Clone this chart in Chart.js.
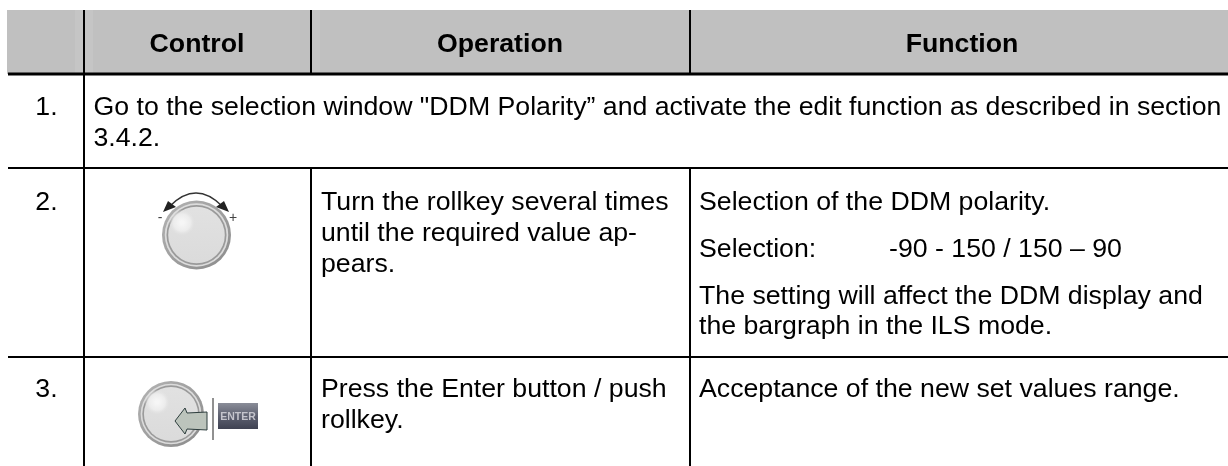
<!DOCTYPE html>
<html>
<head>
<meta charset="utf-8">
<title>DDM Polarity</title>
<style>
html, body { margin: 0; padding: 0; background: #fff; }
#box { width: 1228px; height: 466px; }
</style>
<script src="https://cdn.jsdelivr.net/npm/chart.js@4"></script>
</head>
<body>
<div id="box"><canvas id="tableChart"></canvas></div>
<script>
// table grid, in page units (the axes run 0-1228 and 0-466)
const columnEdges = [84, 311, 690];
const rowEdges = [74, 168, 357];
const tableTop = 10;
const tableBottom = 466;
const tableLeft = 7;
const tableRight = 1228;
const headerStreaks = [[75, 93], [311, 320]];

const headerLabels = ['Control', 'Operation', 'Function'];
const headerCentres = [197, 500, 962];
const rowNumbers = ['1.', '2.', '3.'];
const rowNumberY = [115, 210, 397];

const stepOneLines = ['Go to the selection window "DDM Polarity\u201d and activate the edit function as described in section', '3.4.2.'];
const stepOneY = [115, 146];
const operationLines = ['Turn the rollkey several times', 'until the required value ap-', 'pears.', 'Press the Enter button / push', 'rollkey.'];
const operationY = [210, 241, 272, 397, 428];
const functionLines = ['Selection of the DDM polarity.', 'Selection:', '-90 - 150 / 150 \u2013 90', 'The setting will affect the DDM display and', 'the bargraph in the ILS mode.', 'Acceptance of the new set values range.'];
const functionX = [699, 699, 889, 699, 699, 699];
const functionY = [210, 257, 257, 304, 334, 397];

// two knobs: centre x, centre y, radius
const knobs = [[196.5, 235, 34.5], [171, 414, 33]];

function seg(x1, y1, x2, y2, w) {
    return {
        type: 'line',
        data: [{ x: x1, y: y1 }, { x: x2, y: y2 }],
        borderColor: '#000',
        borderWidth: w || 2,
        pointRadius: 0,
        fill: false,
        order: 0
    };
}

function band(x1, x2, colour, order) {
    return {
        type: 'line',
        data: [{ x: x1, y: tableTop }, { x: x2, y: tableTop }],
        borderWidth: 0,
        pointRadius: 0,
        backgroundColor: colour,
        fill: { value: rowEdges[0] },
        order: order
    };
}

const datasets = [band(tableLeft, tableRight, '#c0c0c0', 2)];
headerStreaks.forEach(function (s) {
    datasets.push(band(s[0], s[1], '#c5c5c5', 1));
});

datasets.push(seg(tableLeft + 1, rowEdges[0], tableRight, rowEdges[0], 3));
datasets.push(seg(tableLeft + 1, rowEdges[1], tableRight, rowEdges[1]));
datasets.push(seg(tableLeft + 1, rowEdges[2], tableRight, rowEdges[2]));
datasets.push(seg(columnEdges[0], tableTop, columnEdges[0], tableBottom));
[columnEdges[1], columnEdges[2]].forEach(function (x) {
    datasets.push(seg(x, tableTop, x, rowEdges[0]));
    datasets.push(seg(x, rowEdges[1], x, tableBottom));
});

function drawKnob(c, x, y, r) {
    let g = c.createLinearGradient(x - r, y - r, x + r, y + r);
    g.addColorStop(0, '#b4b4b4');
    g.addColorStop(1, '#8a8a8a');
    c.fillStyle = g;
    c.beginPath(); c.arc(x, y, r, 0, Math.PI * 2); c.fill();
    c.fillStyle = '#dcdcdc';
    c.beginPath(); c.arc(x, y, r * 0.92, 0, Math.PI * 2); c.fill();
    c.fillStyle = '#9a9a9a';
    c.beginPath(); c.arc(x, y, r * 0.87, 0, Math.PI * 2); c.fill();
    g = c.createLinearGradient(x, y - r, x, y + r);
    g.addColorStop(0, '#e2e2e2');
    g.addColorStop(1, '#dadada');
    c.fillStyle = g;
    c.beginPath(); c.arc(x, y, r * 0.82, 0, Math.PI * 2); c.fill();
    // dimple
    const dx = x - r * 0.42, dy = y - r * 0.36;
    g = c.createRadialGradient(dx, dy, r * 0.05, dx, dy, r * 0.38);
    g.addColorStop(0, '#f6f6f6');
    g.addColorStop(0.6, '#ececec');
    g.addColorStop(1, 'rgba(226,226,226,0)');
    c.fillStyle = g;
    c.beginPath(); c.arc(dx, dy, r * 0.38, 0, Math.PI * 2); c.fill();
}

const tablePlugin = {
    id: 'tableCells',
    afterDatasetsDraw(chart) {
        const c = chart.ctx;
        const X = v => chart.scales.x.getPixelForValue(v);
        const Y = v => chart.scales.y.getPixelForValue(v);
        c.save();
        c.fillStyle = '#000';
        c.textBaseline = 'alphabetic';

        c.font = 'bold 26.7px "Liberation Sans"';
        c.textAlign = 'center';
        headerLabels.forEach((t, i) => c.fillText(t, X(headerCentres[i]), Y(52)));

        c.font = '26.7px "Liberation Sans"';
        rowNumbers.forEach((t, i) => c.fillText(t, X(46.5), Y(rowNumberY[i])));

        c.textAlign = 'left';
        stepOneLines.forEach((t, i) => c.fillText(t, X(93.5), Y(stepOneY[i])));
        operationLines.forEach((t, i) => c.fillText(t, X(321), Y(operationY[i])));
        functionLines.forEach((t, i) => c.fillText(t, X(functionX[i]), Y(functionY[i])));

        knobs.forEach(k => drawKnob(c, X(k[0]), Y(k[1]), k[2]));

        // turn arrow over the first knob
        c.strokeStyle = '#333';
        c.lineWidth = 1.5;
        c.beginPath();
        c.moveTo(X(170), Y(206));
        c.quadraticCurveTo(X(196), Y(180), X(222), Y(206));
        c.stroke();
        c.fillStyle = '#222';
        c.beginPath(); c.moveTo(X(163), Y(212)); c.lineTo(X(168), Y(201)); c.lineTo(X(176), Y(207)); c.fill();
        c.beginPath(); c.moveTo(X(229), Y(212)); c.lineTo(X(224), Y(201)); c.lineTo(X(216), Y(207)); c.fill();
        c.font = '14px "Liberation Sans"';
        c.fillStyle = '#444';
        c.textAlign = 'center';
        c.fillText('-', X(160), Y(222));
        c.fillText('+', X(233), Y(222));

        // push arrow, separator and Enter key on the last row
        c.fillStyle = '#bcc4bc';
        c.strokeStyle = '#2d3d3d';
        c.lineWidth = 1;
        c.beginPath();
        c.moveTo(X(175), Y(421)); c.lineTo(X(185), Y(408)); c.lineTo(X(187), Y(413));
        c.lineTo(X(207), Y(412)); c.lineTo(X(207), Y(430)); c.lineTo(X(187), Y(429));
        c.lineTo(X(185), Y(434)); c.closePath();
        c.fill(); c.stroke();
        c.strokeStyle = '#222';
        c.beginPath(); c.moveTo(X(213), Y(398)); c.lineTo(X(213), Y(440)); c.stroke();
        const g = c.createLinearGradient(0, Y(403), 0, Y(429));
        g.addColorStop(0, '#8a8d98');
        g.addColorStop(0.5, '#5d6070');
        g.addColorStop(1, '#3f4252');
        c.fillStyle = g;
        c.fillRect(X(218), Y(403), 40, 26);
        c.fillStyle = '#c4c4cc';
        c.font = 'bold 10.5px "Liberation Sans"';
        c.textAlign = 'center';
        c.fillText('ENTER', X(238), Y(420));
        c.restore();
    }
};

new Chart(document.getElementById('tableChart').getContext('2d'), {
    type: 'line',
    data: { datasets: datasets },
    plugins: [tablePlugin],
    options: {
        responsive: true,
        maintainAspectRatio: false,
        animation: false,
        parsing: false,
        layout: { padding: 0 },
        plugins: { legend: { display: false }, tooltip: { enabled: false } },
        scales: {
            x: { type: 'linear', display: false, min: 0, max: 1228 },
            y: { type: 'linear', display: false, min: 0, max: 466, reverse: true }
        }
    }
});
</script>
</body>
</html>
